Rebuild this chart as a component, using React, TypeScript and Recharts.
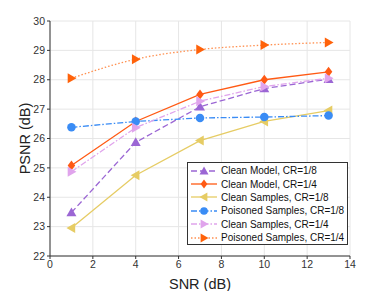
import { LineChart, Line, XAxis, YAxis, CartesianGrid } from "recharts";

const snr = [1, 4, 7, 10, 13];
const cleanModel8 = [23.48, 25.87, 27.08, 27.7, 28.02];
const cleanModel4 = [25.08, 26.58, 27.5, 28.0, 28.27];
const cleanSamples8 = [22.95, 24.75, 25.93, 26.58, 26.95];
const poisoned8 = [26.38, 26.58, 26.7, 26.73, 26.78];
const cleanSamples4 = [24.87, 26.37, 27.27, 27.77, 28.05];
const poisoned4 = [28.05, 28.7, 29.03, 29.18, 29.27];

const xTicks = [0, 2, 4, 6, 8, 10, 12, 14];
const yTicks = [22, 23, 24, 25, 26, 27, 28, 29, 30];

const data = snr.map((s, i) => ({
  snr: s,
  cm8: cleanModel8[i],
  cm4: cleanModel4[i],
  cs8: cleanSamples8[i],
  p8: poisoned8[i],
  cs4: cleanSamples4[i],
  p4: poisoned4[i],
}));

type Marker = "up" | "diamond" | "left" | "circle" | "right";

const series: {
  key: string;
  name: string;
  color: string;
  lineColor: string;
  dash?: string;
  marker: Marker;
  type: "linear" | "monotone";
}[] = [
  { key: "cm8", name: "Clean Model, CR=1/8", color: "#9b66d4", lineColor: "#9b66d4", dash: "6 3", marker: "up", type: "linear" },
  { key: "cm4", name: "Clean Model, CR=1/4", color: "#ff5a14", lineColor: "#ff5a14", marker: "diamond", type: "linear" },
  { key: "cs8", name: "Clean Samples, CR=1/8", color: "#e6cc64", lineColor: "#e6cc64", marker: "left", type: "linear" },
  { key: "p8", name: "Poisoned Samples, CR=1/8", color: "#3a8cf5", lineColor: "#3a8cf5", dash: "6 2 1.5 2", marker: "circle", type: "linear" },
  { key: "cs4", name: "Clean Samples, CR=1/4", color: "#e0a4ec", lineColor: "#e0a4ec", dash: "6 2 1.5 2", marker: "right", type: "linear" },
  { key: "p4", name: "Poisoned Samples, CR=1/4", color: "#ff620a", lineColor: "#ff9050", dash: "1.5 2", marker: "right", type: "monotone" },
];

function markerShape(m: Marker, cx: number, cy: number, r: number, color: string) {
  if (m === "circle") return <circle cx={cx} cy={cy} r={r * 0.85} fill={color} />;
  let pts: number[][] = [];
  if (m === "up") pts = [[cx, cy - r], [cx - r, cy + r * 0.75], [cx + r, cy + r * 0.75]];
  if (m === "diamond") pts = [[cx, cy - r], [cx + r * 0.75, cy], [cx, cy + r], [cx - r * 0.75, cy]];
  if (m === "left") pts = [[cx - r, cy], [cx + r * 0.75, cy - r], [cx + r * 0.75, cy + r]];
  if (m === "right") pts = [[cx + r, cy], [cx - r * 0.75, cy - r], [cx - r * 0.75, cy + r]];
  return <polygon points={pts.map((p) => p.join(",")).join(" ")} fill={color} />;
}

const font = "'Liberation Sans', Arial, sans-serif";

function LegendBox() {
  return (
    <div
      style={{
        position: "absolute",
        left: 187,
        top: 162,
        width: 161,
        height: 83,
        boxSizing: "border-box",
        border: "1px solid #333",
        background: "#fff",
        padding: "1px 0",
        fontFamily: font,
        fontSize: 10,
        color: "#111",
      }}
    >
      {series.map((s) => (
        <div key={s.key} style={{ display: "flex", alignItems: "center", height: 13.4 }}>
          <svg width={28} height={12} style={{ marginLeft: 2, flex: "none" }}>
            <line x1={1} y1={6} x2={27} y2={6} stroke={s.lineColor} strokeWidth={1.3} strokeDasharray={s.dash} />
            {markerShape(s.marker, 14, 6, 4.5, s.color)}
          </svg>
          <span style={{ marginLeft: 3, whiteSpace: "nowrap" }}>{s.name}</span>
        </div>
      ))}
    </div>
  );
}

export default function App() {
  return (
    <div style={{ position: "absolute", left: 0, top: 0, width: 388, height: 291, background: "#fff" }}>
      <LineChart width={388} height={291} data={data} margin={{ top: 21, right: 38, bottom: 0, left: 0 }}>
        <CartesianGrid stroke="#e6e6e6" />
        <XAxis
          dataKey="snr"
          type="number"
          domain={[0, 14]}
          ticks={xTicks}
          height={35}
          tick={{ fill: "#333", fontSize: 10.5, fontFamily: font }}
          tickSize={3}
          tickMargin={2}
          stroke="#333"
          label={{ value: "SNR (dB)", position: "insideBottom", offset: 2, fill: "#222", fontSize: 14.5, fontFamily: font }}
        />
        <XAxis xAxisId="top" dataKey="snr" type="number" domain={[0, 14]} orientation="top" tick={false} height={0} stroke="#333" />
        <YAxis
          type="number"
          domain={[22, 30]}
          ticks={yTicks}
          width={50}
          tick={{ fill: "#333", fontSize: 10.5, fontFamily: font }}
          tickSize={3}
          tickMargin={2}
          stroke="#333"
          label={{ value: "PSNR (dB)", angle: -90, position: "center", fill: "#222", fontSize: 14.5, fontFamily: font }}
        />
        <YAxis yAxisId="right" type="number" domain={[22, 30]} orientation="right" tick={false} width={0} stroke="#333" />
        {series.map((s) => (
          <Line
            key={s.key}
            dataKey={s.key}
            name={s.name}
            type={s.type}
            stroke={s.lineColor}
            strokeWidth={1.3}
            strokeDasharray={s.dash}
            isAnimationActive={false}
            dot={(p: any) => <g key={`${s.key}-${p.index}`}>{markerShape(s.marker, p.cx, p.cy, 5, s.color)}</g>}
            activeDot={false}
          />
        ))}
      </LineChart>
      <LegendBox />
    </div>
  );
}
